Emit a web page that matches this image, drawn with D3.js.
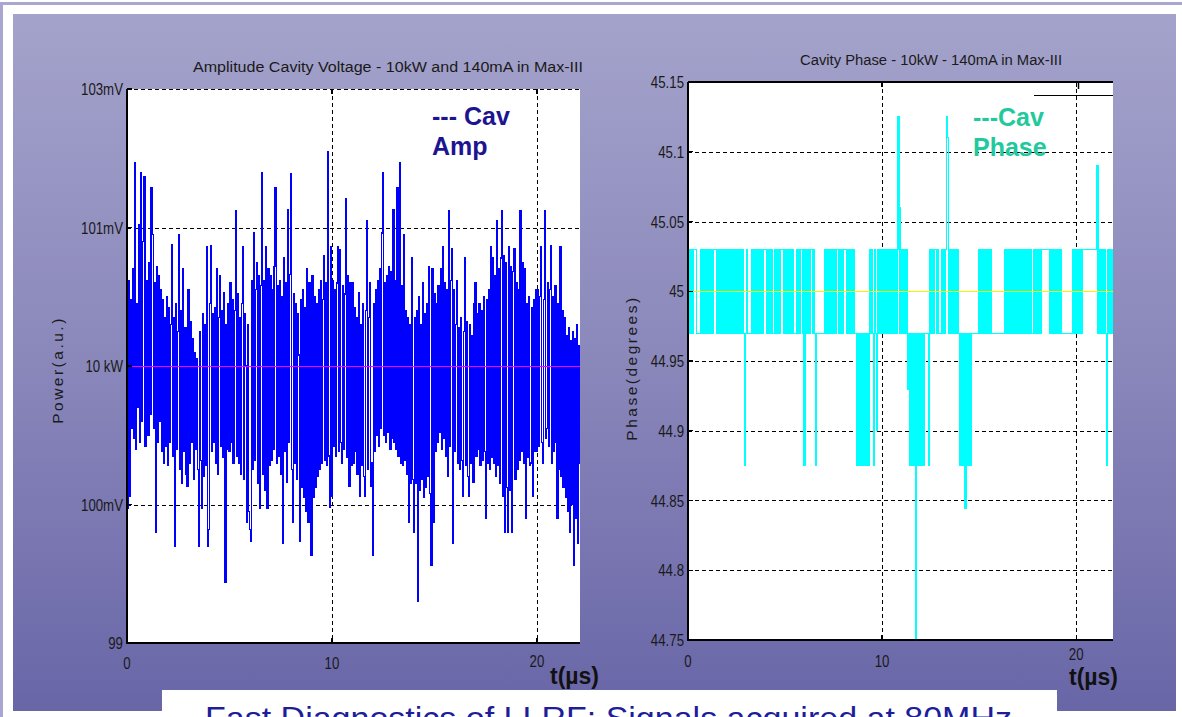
<!DOCTYPE html>
<html>
<head>
<meta charset="utf-8">
<script src="https://cdn.jsdelivr.net/npm/d3@7"></script>
<style>
  html, body { margin: 0; padding: 0; background: #ffffff; overflow: hidden; }
  svg { display: block; }
  text { font-family: "Liberation Sans", Arial, Helvetica, sans-serif; }
</style>
</head>
<body>
<svg id="chart" width="1182" height="717"></svg>
<script>
// ---- data -------------------------------------------------------------
// time axis (µs)
const timeTicks = [0, 10, 20];
const sampleStep = 0.05; // µs between stored samples

// cavity amplitude, offset from the 10 kW set point (a.u.)
const ampTickValues = [-2, -1, 0, 1, 2];
const ampTickLabels = ["99", "100mV", "10 kW", "101mV", "103mV"];
const ampSetPoint = 0;
const ampDev = [
  0.55,-1.03,0.62,-0.94,0.48,-0.45,0.70,-0.52,1.47,-0.60,0.45,-0.30,1.02,-0.55,1.40,-0.40,0.90,1.37,-0.58,0.62,
  0.40,-0.50,0.75,-0.35,1.29,0.95,-0.45,0.60,-1.20,0.72,-0.55,0.65,-0.40,0.55,-0.62,0.48,-0.70,0.35,-0.58,0.50,
  -0.72,0.42,-0.55,0.30,0.88,-0.65,0.35,-1.30,0.45,-0.60,0.25,0.95,-0.75,0.40,-0.85,0.70,-0.62,0.28,-0.78,-0.87,
  0.55,-0.70,0.32,-0.55,0.20,-0.82,0.10,-0.60,0.05,-0.75,-1.30,0.25,-0.68,-1.03,0.38,-0.80,0.30,-0.72,0.86,-1.30,
  -1.18,0.45,0.87,-0.62,0.38,-0.55,0.42,-0.70,0.70,-0.78,0.35,0.65,-0.58,0.40,-0.66,0.53,-1.56,0.30,-0.60,0.45,
  -0.62,0.60,-0.55,0.48,-0.70,0.40,1.12,-0.65,0.52,-0.70,0.35,-0.78,0.45,0.86,-0.82,0.38,0.00,-1.13,0.30,-1.05,
  -1.18,-1.27,0.62,-0.75,0.96,-0.68,0.55,0.75,-0.85,0.65,-1.03,0.58,1.40,-0.78,0.62,-0.90,0.86,-1.03,0.70,-0.72,
  0.65,-0.68,0.55,-0.60,0.72,1.29,-0.70,0.58,-0.65,0.62,-0.78,0.50,-1.28,0.78,-0.62,0.60,-0.84,1.13,-0.55,0.66,
  1.39,-0.75,-1.13,0.52,-0.70,0.45,-0.82,0.38,0.08,-1.27,0.48,-0.88,0.55,-0.95,0.42,-1.05,0.70,-1.13,0.60,-1.10,
  -1.37,0.65,-0.95,0.50,-0.88,0.45,-0.80,0.55,-0.75,0.62,-0.70,0.48,0.80,-0.68,0.60,-0.72,1.55,-0.65,-1.02,0.86,
  -0.94,0.62,-0.58,0.55,-0.65,0.60,0.86,-0.62,0.84,-0.55,-0.70,0.58,-0.60,0.52,1.21,-0.66,0.65,-0.87,0.60,-0.72,
  0.60,-0.70,0.42,-0.62,0.35,-0.78,0.53,-0.94,0.30,-0.72,0.45,-0.80,-0.94,0.40,1.05,-0.75,0.35,0.60,-0.87,-0.70,
  -1.37,0.45,-0.62,0.55,-0.50,0.62,-0.58,0.70,-0.45,0.96,1.40,-0.50,0.60,-0.55,0.65,-0.48,0.72,-0.60,0.68,-0.52,
  1.13,-0.55,0.62,-0.60,1.29,-0.65,1.47,-0.70,0.58,-0.72,0.95,-0.68,0.40,-0.78,0.35,-1.13,0.30,-0.85,0.78,-0.82,
  -1.20,0.35,-0.85,0.40,-1.70,0.50,-0.90,0.30,-0.82,0.60,-0.95,0.38,-0.88,0.45,-0.80,0.72,-0.92,-1.44,0.70,-1.13,
  0.52,-0.62,0.45,-0.55,0.58,-0.48,0.70,-0.60,0.86,-0.52,0.60,-0.65,0.55,-0.80,1.12,-0.58,0.62,0.85,-1.28,0.55,
  -0.62,0.30,0.62,-0.70,0.28,-0.75,0.35,-0.68,-0.94,0.25,0.78,-0.72,0.32,-0.80,-0.94,0.30,-0.70,0.22,-0.84,0.45,
  0.60,-0.65,0.38,-0.60,0.45,-0.72,0.40,-0.68,0.50,-0.62,-1.10,0.48,-0.70,0.55,-0.75,0.86,-0.66,0.78,-0.70,0.65,
  -0.80,1.05,-0.72,0.70,-0.85,0.78,1.12,-0.94,0.80,-1.20,0.75,-0.88,-1.20,0.86,-0.90,0.72,-1.20,0.68,0.85,-0.82,
  0.60,-0.75,0.55,-0.68,1.12,-0.62,0.75,-0.70,0.70,-1.10,0.45,-0.66,0.50,-0.72,-0.70,0.42,-0.94,0.48,-0.62,0.55,
  -0.62,0.55,-0.58,0.50,0.86,-0.55,-0.70,0.48,1.12,-0.52,-0.45,0.60,-0.58,0.55,0.87,-0.70,0.50,-0.62,0.58,-0.55,
  -1.10,0.45,-0.75,0.86,-0.80,0.40,-0.88,0.35,-0.95,0.22,-1.05,0.28,-1.20,0.18,-1.00,0.25,-1.44,0.20,-1.10,0.30,-1.28,0.15,-0.70
];

// cavity phase (degrees)
const phaseTicks = [44.75, 44.8, 44.85, 44.9, 44.95, 45, 45.05, 45.1, 45.15];
const phaseTickLabels = ["44.75", "44.8", "44.85", "44.9", "44.95", "45", "45.05", "45.1", "45.15"];
const phaseSetPoint = 45;
const phaseDeg = [
  45.03,44.97,45.03,44.97,45.03,44.97,45.03,45.03,45.03,44.97,
  44.97,44.97,44.97,45.03,44.97,45.03,44.97,45.03,44.97,45.03,
  44.97,45.03,44.97,45.03,44.97,45.03,44.97,45.03,45.03,45.03,
  44.97,45.03,44.97,45.03,44.97,45.03,44.97,45.03,44.97,45.03,
  44.97,45.03,44.97,45.03,44.97,45.03,44.97,45.03,44.97,45.03,
  44.97,45.03,44.97,45.03,44.97,45.03,44.97,45.03,44.97,44.875,
  44.97,45.03,44.97,44.97,44.97,44.97,45.03,44.97,45.03,44.97,
  45.03,44.97,45.03,44.97,45.03,44.97,45.03,44.97,45.03,45.03,
  45.03,44.97,45.03,44.97,45.03,44.97,45.03,44.97,44.97,44.97,
  45.03,44.97,45.03,44.97,45.03,44.97,45.03,45.03,45.03,44.97,
  45.03,44.97,45.03,44.97,45.03,44.97,45.03,44.97,45.03,44.97,
  44.97,44.97,45.03,44.97,45.03,44.97,45.03,45.03,45.03,44.97,
  44.875,45.03,44.97,45.03,44.97,45.03,44.97,45.03,45.03,44.97,
  45.03,44.97,44.875,44.97,44.97,44.97,44.97,44.97,44.97,44.97,
  44.97,45.03,44.97,45.03,44.97,45.03,44.97,45.03,44.97,45.03,
  44.97,45.03,44.97,45.03,45.03,45.03,44.97,45.03,44.97,45.03,
  44.97,45.03,45.03,45.03,44.97,45.03,44.97,45.03,44.97,45.03,
  44.97,45.03,44.97,44.97,44.875,44.97,44.875,44.97,44.875,44.97,
  44.875,44.97,44.875,44.97,44.875,44.97,44.875,44.97,45.03,44.97,
  45.03,44.97,44.875,45.03,44.97,44.9,45.03,44.97,45.03,44.97,
  45.03,44.97,45.03,44.97,45.03,44.97,45.03,44.97,45.03,44.97,
  45.03,44.97,45.03,44.97,45.03,44.97,45.03,45.125,45.06,44.97,
  45.03,44.97,45.03,44.97,45.03,44.97,45.03,44.93,44.97,44.875,
  44.97,44.875,44.97,44.875,44.97,44.75,44.97,44.875,44.97,44.875,
  44.97,44.875,44.97,44.875,44.97,44.97,44.97,44.97,44.875,44.97,
  45.03,44.97,45.03,44.97,45.03,45.03,45.03,44.97,45.03,44.97,
  44.97,44.97,45.03,44.97,45.03,44.97,45.03,45.125,45.11,44.97,
  45.03,44.97,45.03,44.97,45.03,44.97,45.03,44.97,45.03,44.97,
  44.875,44.97,44.875,44.97,44.875,44.97,44.844,44.97,44.875,44.97,
  44.875,44.97,44.875,44.97,44.97,44.97,44.97,44.97,44.97,44.97,
  45.03,44.97,45.03,44.97,45.03,44.97,45.03,44.97,45.03,44.97,
  45.03,44.97,45.03,44.97,44.97,44.97,44.97,44.97,44.97,44.97,
  44.97,44.97,44.97,44.97,44.97,44.97,44.97,45.03,44.97,45.03,
  44.97,45.03,44.97,45.03,44.97,45.03,44.97,45.03,44.97,45.03,
  44.97,45.03,44.97,45.03,44.97,45.03,44.97,45.03,44.97,45.03,
  44.97,45.03,44.97,45.03,44.97,44.97,44.97,45.03,44.97,45.03,
  44.97,45.03,44.97,45.03,44.97,45.03,45.03,45.03,45.03,45.03,
  45.03,45.03,45.03,44.97,45.03,44.97,45.03,44.97,45.03,44.97,
  45.03,44.97,45.03,44.97,45.03,44.97,44.97,44.97,44.97,44.97,
  44.97,44.97,44.97,44.97,44.97,44.97,44.97,45.03,44.97,45.03,
  44.97,45.03,44.97,45.03,44.97,45.03,44.97,45.03,45.03,45.03,
  45.03,45.03,45.03,45.03,45.03,45.03,45.03,45.03,45.03,45.03,
  45.03,45.03,45.09,44.97,45.03,44.97,45.03,44.97,45.03,44.97,
  45.03,44.97,44.875,45.03,44.97,45.03,44.97,45.03,44.97
];

// ---- page -------------------------------------------------------------
const svg = d3.select("#chart");
const defs = svg.append("defs");

const grad = defs.append("linearGradient")
  .attr("id", "panelFill").attr("x1", 0).attr("y1", 0).attr("x2", 0).attr("y2", 1);
grad.append("stop").attr("offset", "0%").attr("stop-color", "#a4a3cb");
grad.append("stop").attr("offset", "50%").attr("stop-color", "#8a87bb");
grad.append("stop").attr("offset", "100%").attr("stop-color", "#6966a8");

// slide frame and panel
svg.append("rect").attr("x", 1.5).attr("y", 3.5).attr("width", 1200).attr("height", 800)
  .attr("fill", "none").attr("stroke", "#aaa6d2").attr("stroke-width", 3);
svg.append("rect").attr("x", 13).attr("y", 14).attr("width", 1163).attr("height", 697)
  .attr("fill", "url(#panelFill)");

// caption box at the bottom
svg.append("rect").attr("x", 162).attr("y", 690).attr("width", 895).attr("height", 40)
  .attr("fill", "#ffffff");
svg.append("text")
  .attr("x", 205).attr("y", 729)
  .attr("font-size", 32).attr("fill", "#1e1e98")
  .attr("textLength", 807).attr("lengthAdjust", "spacingAndGlyphs")
  .text("Fast Diagnostics of LLRF: Signals acquired at 80MHz");

// condensed label: horizontally squeezed around its anchor point
function narrowText(parent, x, y, str, opts) {
  return parent.append("text")
    .attr("transform", `translate(${x},${y}) scale(${opts.squeeze || 0.8},1)`)
    .attr("text-anchor", opts.anchor || "start")
    .attr("font-size", opts.size || 14)
    .attr("fill", opts.fill || "#1a1a1a")
    .text(str);
}

// ---- shared plot builder ----------------------------------------------
function drawPlot(cfg) {
  const g = svg.append("g");
  const x = d3.scaleLinear().domain(cfg.xDomain).range([cfg.left, cfg.right]);
  const y = d3.scaleLinear().domain(cfg.yDomain).range([cfg.bottom, cfg.top]);

  g.append("rect").attr("x", cfg.left).attr("y", cfg.top)
    .attr("width", cfg.right - cfg.left).attr("height", cfg.bottom - cfg.top)
    .attr("fill", "#ffffff");

  const clipId = cfg.id + "Clip";
  defs.append("clipPath").attr("id", clipId).append("rect")
    .attr("x", cfg.left).attr("y", cfg.top)
    .attr("width", cfg.right - cfg.left).attr("height", cfg.bottom - cfg.top);

  // dashed grid
  const grid = g.append("g").attr("stroke", "#000").attr("stroke-width", 1)
    .attr("stroke-dasharray", "4,3").attr("shape-rendering", "crispEdges");
  grid.selectAll(".gy").data(cfg.gridY).join("line")
    .attr("x1", cfg.left).attr("x2", cfg.right)
    .attr("y1", d => Math.round(y(d)) + 0.5).attr("y2", d => Math.round(y(d)) + 0.5);
  grid.selectAll(".gx").data(timeTicks.filter(t => t > 0)).join("line")
    .attr("x1", d => Math.round(x(d)) + 0.5).attr("x2", d => Math.round(x(d)) + 0.5)
    .attr("y1", cfg.top).attr("y2", cfg.bottom);

  // signal trace: densely sampled, so each sample becomes a 1-px column
  const line = d3.line().curve(d3.curveStep)
    .x((d, i) => x(i * sampleStep)).y(d => y(d));
  g.append("path").datum(cfg.values)
    .attr("clip-path", `url(#${clipId})`)
    .attr("fill", "none").attr("stroke", cfg.color).attr("stroke-width", 1.2)
    .attr("shape-rendering", "crispEdges")
    .attr("d", line);

  // set-point reference
  g.append("line")
    .attr("x1", cfg.left).attr("x2", cfg.right)
    .attr("y1", Math.round(y(cfg.setPoint)) + 0.5).attr("y2", Math.round(y(cfg.setPoint)) + 0.5)
    .attr("stroke", cfg.refColor).attr("stroke-width", cfg.refWidth)
    .attr("shape-rendering", "crispEdges");

  // axes lines
  const axes = g.append("g").attr("stroke", "#000").attr("stroke-width", 1.2)
    .attr("shape-rendering", "crispEdges");
  axes.append("line").attr("x1", cfg.left).attr("x2", cfg.left)
    .attr("y1", cfg.top).attr("y2", cfg.bottom + 0.5);
  axes.append("line").attr("x1", cfg.left).attr("x2", cfg.right)
    .attr("y1", cfg.bottom).attr("y2", cfg.bottom);
  if (cfg.solidTop) {
    axes.append("line").attr("x1", cfg.left).attr("x2", cfg.right)
      .attr("y1", cfg.top).attr("y2", cfg.top);
  }
  // inward ticks
  axes.selectAll(".tx").data(timeTicks).join("line")
    .attr("x1", d => x(d)).attr("x2", d => x(d))
    .attr("y1", cfg.bottom).attr("y2", cfg.bottom - 5);
  axes.selectAll(".tt").data(timeTicks).join("line")
    .attr("x1", d => x(d)).attr("x2", d => x(d))
    .attr("y1", cfg.top).attr("y2", cfg.top + 5);
  axes.selectAll(".ty").data(cfg.yTicks).join("line")
    .attr("x1", cfg.left).attr("x2", cfg.left + 5)
    .attr("y1", d => y(d)).attr("y2", d => y(d));

  // tick labels
  cfg.yTicks.forEach((v, i) => {
    narrowText(g, cfg.left - 4, y(v) + 6, cfg.yLabels[i], { anchor: "end", size: 17, squeeze: 0.78 });
  });
  timeTicks.forEach(t => {
    const lift = t === 20 ? cfg.lastTickLift : 0;
    narrowText(g, x(t), cfg.bottom + cfg.xTickGap - lift, String(t), { anchor: "middle", size: 17, squeeze: 0.78 });
  });

  // title
  g.append("text")
    .attr("x", cfg.titleX).attr("y", cfg.titleY)
    .attr("font-size", 14).attr("fill", "#1a1a1a")
    .attr("textLength", cfg.titleLen).attr("lengthAdjust", "spacingAndGlyphs")
    .text(cfg.title);

  // y-axis name
  g.append("text")
    .attr("transform", `translate(${cfg.yNameX},${cfg.yNameY}) rotate(-90)`)
    .attr("text-anchor", "middle").attr("font-size", 15.5).attr("fill", "#1a1a1a")
    .attr("letter-spacing", 2.5)
    .text(cfg.yName);

  // x-axis name
  g.append("text")
    .attr("x", cfg.xNameX).attr("y", cfg.xNameY)
    .attr("font-size", 23).attr("font-weight", "bold").attr("fill", "#111")
    .text("t(µs)");

  // in-plot legend
  g.selectAll(".leg").data(cfg.legend).join("text")
    .attr("x", cfg.legendX).attr("y", (d, i) => cfg.legendY + i * 30)
    .attr("font-size", 25).attr("font-weight", "bold").attr("fill", cfg.legendColor)
    .text(d => d);

  return { g, x, y };
}

// amplitude plot
drawPlot({
  id: "amp",
  left: 127, right: 580, top: 89, bottom: 643,
  xDomain: [0, 22.1], yDomain: [-2, 2],
  yTicks: ampTickValues, yLabels: ampTickLabels, gridY: [-1, 1, 2],
  values: ampDev, color: "#0000ff",
  setPoint: ampSetPoint, refColor: "#ff00ff", refWidth: 1.5,
  solidTop: false, xTickGap: 26, lastTickLift: 2,
  title: "Amplitude Cavity Voltage - 10kW and 140mA in Max-III",
  titleX: 193, titleY: 72, titleLen: 390,
  yName: "Power(a.u.)", yNameX: 63, yNameY: 370,
  xNameX: 550, xNameY: 684,
  legend: ["--- Cav", "Amp"], legendX: 432, legendY: 125, legendColor: "#1c1490"
});

// phase plot
const phase = drawPlot({
  id: "phase",
  left: 688, right: 1113, top: 82, bottom: 640,
  xDomain: [0, 21.9], yDomain: [44.75, 45.15],
  yTicks: phaseTicks, yLabels: phaseTickLabels,
  gridY: phaseTicks.filter(v => v > 44.75 && v < 45.15),
  values: phaseDeg, color: "#00ffff",
  setPoint: phaseSetPoint, refColor: "#f4f400", refWidth: 1.4,
  solidTop: true, xTickGap: 27, lastTickLift: 7,
  title: "Cavity Phase - 10kW - 140mA in Max-III",
  titleX: 800, titleY: 65, titleLen: 262,
  yName: "Phase(degrees)", yNameX: 637, yNameY: 368,
  xNameX: 1069, xNameY: 685,
  legend: ["---Cav", "Phase"], legendX: 973, legendY: 126, legendColor: "#22c99c"
});

// leftover legend frame edge in the phase axes corner
phase.g.append("line").attr("x1", 1034).attr("x2", 1113).attr("y1", 95.5).attr("y2", 95.5)
  .attr("stroke", "#000").attr("stroke-width", 1.2);
phase.g.append("line").attr("x1", 1078.5).attr("x2", 1078.5).attr("y1", 83).attr("y2", 89)
  .attr("stroke", "#000").attr("stroke-width", 1.5);
</script>
</body>
</html>
